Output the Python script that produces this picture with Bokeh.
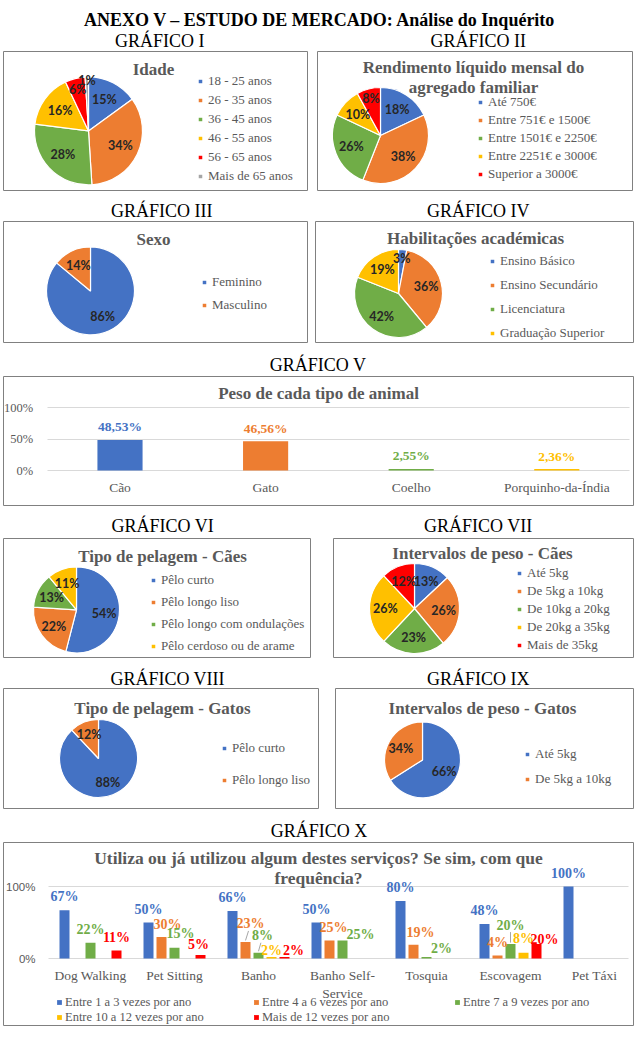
import numpy as np
from bokeh.plotting import figure
from bokeh.models import (Range1d, ColumnDataSource, Legend, LegendItem, LinearAxis,
                          FixedTicker, NumeralTickFormatter, Grid)
from bokeh.layouts import column, row
from bokeh.embed import file_html
from bokeh.resources import INLINE
from bokeh.core.properties import value

# ---------------- data ----------------
idade_labels = ["18 - 25 anos", "26 - 35 anos", "36 - 45 anos", "46 - 55 anos",
                "56 - 65 anos", "Mais de 65 anos"]
idade_values = [15, 34, 28, 16, 6, 1]

rend_labels = ["Até 750€", "Entre 751€ e 1500€", "Entre 1501€ e 2250€",
               "Entre 2251€ e 3000€", "Superior a 3000€"]
rend_values = [18, 38, 26, 10, 8]

sexo_labels = ["Feminino", "Masculino"]
sexo_values = [86, 14]

hab_labels = ["Ensino Básico", "Ensino Secundário", "Licenciatura", "Graduação Superior"]
hab_values = [3, 36, 42, 19]

animal_labels = ["Cão", "Gato", "Coelho", "Porquinho-da-Índia"]
animal_values = [48.53, 46.56, 2.55, 2.36]

pelc_labels = ["Pêlo curto", "Pêlo longo liso", "Pêlo longo com ondulações",
               "Pêlo cerdoso ou de arame"]
pelc_values = [54, 22, 13, 11]

pesoc_labels = ["Até 5kg", "De 5kg a 10kg", "De 10kg a 20kg", "De 20kg a 35kg", "Mais de 35kg"]
pesoc_values = [13, 26, 23, 26, 12]

pelg_labels = ["Pêlo curto", "Pêlo longo liso"]
pelg_values = [88, 12]

pesog_labels = ["Até 5kg", "De 5kg a 10kg"]
pesog_values = [66, 34]

serv_categories = ["Dog Walking", "Pet Sitting", "Banho", "Banho Self-\nService",
                   "Tosquia", "Escovagem", "Pet Táxi"]
serv_series = ["Entre 1 a 3 vezes por ano", "Entre 4 a 6 vezes por ano",
               "Entre 7 a 9 vezes por ano", "Entre 10 a 12 vezes por ano",
               "Mais de 12 vezes por ano"]
serv_1a3 = [67, 50, 66, 50, 80, 48, 100]
serv_4a6 = [0, 30, 23, 25, 19, 4, 0]
serv_7a9 = [22, 15, 8, 25, 2, 20, 0]
serv_10a12 = [0, 0, 2, 0, 0, 8, 0]
serv_mais12 = [11, 5, 2, 0, 0, 20, 0]

# ---------------- style ----------------
BLUE, ORANGE, GREEN, YELLOW, RED, GRAY = "#4472C4", "#ED7D31", "#70AD47", "#FFC000", "#FF0000", "#A5A5A5"
PALETTE = [BLUE, ORANGE, GREEN, YELLOW, RED, GRAY]
BOX = "#808080"
TXT = "#595959"
GRIDC = "#d9d9d9"
SERIF = "Liberation Serif"
W = 637


def base_fig(split, band, box, xr, yr, outline=BOX):
    fl, fr = split
    bt, bb = band
    l, t, r, b = box
    return figure(width=fr - fl, height=bb - bt, x_range=xr, y_range=yr,
                  min_border_left=l - fl, min_border_right=fr - r,
                  min_border_top=t - bt, min_border_bottom=bb - b,
                  x_axis_type=None, y_axis_type=None, toolbar_location=None, tools="",
                  output_backend="svg", outline_line_color=outline, outline_line_width=1,
                  background_fill_color="white", border_fill_color="white")


def make_legend(items, x_px, y0_px, pitch, nrows, box, size="13px", standoff=5):
    l, t, r, b = box
    bottom = y0_px + (nrows - 1) * pitch + pitch / 2.0
    return Legend(items=items, location=(x_px - l, b - bottom), orientation="vertical",
                  padding=0, margin=0, spacing=0, glyph_width=6, glyph_height=6,
                  label_height=int(round(pitch)), label_standoff=standoff,
                  label_text_font=SERIF, label_text_font_size=size, label_text_color=TXT,
                  border_line_alpha=0, background_fill_alpha=0)


def head_fig(top, bottom, entries):
    p = figure(width=W, height=bottom - top, x_range=Range1d(0, W), y_range=Range1d(bottom, top),
               min_border_left=0, min_border_right=0, min_border_top=0, min_border_bottom=0,
               x_axis_type=None, y_axis_type=None, toolbar_location=None, tools="",
               output_backend="svg", outline_line_color=None,
               background_fill_color="white", border_fill_color="white")
    for txt, x, y, bold in entries:
        p.text(x=[x], y=[y], text=[txt], text_font=value(SERIF), text_font_size="18px",
               text_font_style="bold" if bold else "normal", text_color="black",
               text_align="center", text_baseline="middle")
    return p


def pie_panel(labels, values, box, split, band, center, radius, titles, title_pos,
              leg_x, leg_y0, leg_pitch):
    l, t, r, b = box
    p = base_fig(split, band, box, Range1d(l, r), Range1d(b, t))
    vals = np.asarray(values, float)
    frac = vals / vals.sum()
    cum = np.concatenate([[0.0], np.cumsum(frac)])
    end = np.pi / 2 - 2 * np.pi * cum[:-1]
    start = np.pi / 2 - 2 * np.pi * cum[1:]
    src = ColumnDataSource(dict(start=start, end=end, color=PALETTE[:len(values)]))
    cx, cy = center
    w = p.wedge(x=cx, y=cy, radius=radius, start_angle="start", end_angle="end",
                fill_color="color", line_color="white", line_width=1.2, source=src)
    mid = (start + end) / 2
    fac = np.where(vals >= 10, 0.65, np.where(vals >= 3, 0.8, 0.95))
    lx = cx + fac * radius * np.cos(mid)
    ly = cy - fac * radius * np.sin(mid)
    p.text(x=lx, y=ly, text=[f"{v}%" for v in values], text_font=value("Lato"),
           text_font_style="bold", text_font_size="12.5px", text_color="#262626",
           text_align="center", text_baseline="middle")
    tx, ty = title_pos
    p.text(x=[tx] * len(titles), y=[ty + 20 * i for i in range(len(titles))], text=titles,
           text_font=value(SERIF), text_font_style="bold", text_font_size="17px",
           text_color=TXT, text_align="center", text_baseline="middle")
    items = [LegendItem(label=lab, renderers=[w], index=i) for i, lab in enumerate(labels)]
    p.add_layout(make_legend(items, leg_x, leg_y0, leg_pitch, len(labels), box))
    return p


# ---------------- headings ----------------
h1 = head_fig(0, 49, [("ANEXO V – ESTUDO DE MERCADO: Análise do Inquérito", 320, 19, True),
                      ("GRÁFICO I", 158, 40, False), ("GRÁFICO II", 480, 40, False)])
h2 = head_fig(195, 219, [("GRÁFICO III", 160, 210, False), ("GRÁFICO IV", 480, 210, False)])
h3 = head_fig(347, 375, [("GRÁFICO V", 318, 364, False)])
h4 = head_fig(510, 536, [("GRÁFICO VI", 161, 525, False), ("GRÁFICO VII", 480, 525, False)])
h5 = head_fig(662, 687, [("GRÁFICO VIII", 166, 678, False), ("GRÁFICO IX", 480, 678, False)])
h6 = head_fig(814, 841, [("GRÁFICO X", 319, 830, False)])

# ---------------- pies ----------------
p1 = pie_panel(idade_labels, idade_values, (3, 50, 307, 190), (0, 312), (49, 195),
               (88, 130), 54, ["Idade"], (153, 68), 197, 81, 19)
p2 = pie_panel(rend_labels, rend_values, (317, 51, 632, 190), (312, 637), (49, 195),
               (380, 135), 48, ["Rendimento líquido mensal do", "agregado familiar"], (473, 67),
               477, 102, 18)
p3 = pie_panel(sexo_labels, sexo_values, (3, 220, 307, 342), (0, 311), (219, 347),
               (90, 290), 44, ["Sexo"], (153, 238), 201, 282, 23)
p4 = pie_panel(hab_labels, hab_values, (315, 221, 633, 342), (311, 637), (219, 347),
               (398, 293), 44, ["Habilitações académicas"], (475, 238), 489, 261, 24)
p6 = pie_panel(pelc_labels, pelc_values, (3, 537, 310, 657), (0, 320), (536, 662),
               (76, 609), 43, ["Tipo de pelagem - Cães"], (162, 555), 150, 580, 22)
p7 = pie_panel(pesoc_labels, pesoc_values, (333, 538, 633, 657), (320, 637), (536, 662),
               (414, 608), 45, ["Intervalos de peso - Cães"], (482, 553), 516, 573, 18)
p8 = pie_panel(pelg_labels, pelg_values, (3, 688, 318, 808), (0, 326), (687, 814),
               (98, 758), 39, ["Tipo de pelagem - Gatos"], (162, 708), 221, 748, 32)
p9 = pie_panel(pesog_labels, pesog_values, (335, 688, 633, 809), (326, 637), (687, 814),
               (422, 760), 38, ["Intervalos de peso - Gatos"], (482, 708), 524, 755, 25)

# ---------------- chart V ----------------
V_BOX = (3, 376, 633, 505)
V_X0, V_DX, V_Y0, V_DY = 46.7, 145.6, 470.0, 63.0


def vx(px):
    return (px - V_X0) / V_DX


def vy(py):
    return (V_Y0 - py) / V_DY


p5 = base_fig((0, W), (375, 510), V_BOX, Range1d(vx(3), vx(633)), Range1d(vy(505), vy(376)))
p5.add_layout(Grid(dimension=1, ticker=FixedTicker(ticks=[0, 0.5, 1]),
                   cross_bounds=(0, len(animal_labels)), grid_line_color=GRIDC))
v_cols = PALETTE[:len(animal_labels)]
v_x = np.arange(len(animal_labels)) + 0.5
v_top = np.asarray(animal_values) / 100
p5.vbar(x=v_x, top=v_top, width=0.31, fill_color=v_cols, line_color=None)
p5.text(x=v_x, y=v_top, text=[f"{v:.2f}%".replace(".", ",") for v in animal_values],
        y_offset=-13, text_font=value(SERIF), text_font_style="bold", text_font_size="13.5px",
        text_color=v_cols, text_align="center", text_baseline="middle")
p5.text(x=[vx(318)], y=[vy(393)], text=["Peso de cada tipo de animal"], text_font=value(SERIF),
        text_font_style="bold", text_font_size="17px", text_color=TXT,
        text_align="center", text_baseline="middle")
ya5 = LinearAxis(fixed_location=0, ticker=FixedTicker(ticks=[0, 0.5, 1]),
                 formatter=NumeralTickFormatter(format="0%"), axis_line_color=None,
                 major_tick_line_color=None, minor_tick_line_color=None,
                 major_tick_in=0, major_tick_out=0, major_label_standoff=14,
                 major_label_text_font=SERIF, major_label_text_font_size="12.5px",
                 major_label_text_color=TXT)
p5.add_layout(ya5, "left")
xa5 = LinearAxis(fixed_location=0, ticker=FixedTicker(ticks=list(v_x)),
                 major_label_overrides={float(x): lab for x, lab in zip(v_x, animal_labels)},
                 axis_line_color=None, major_tick_line_color=None, minor_tick_line_color=None,
                 major_tick_in=0, major_tick_out=0, major_label_standoff=9,
                 major_label_text_font=SERIF, major_label_text_font_size="13.5px",
                 major_label_text_color=TXT)
p5.add_layout(xa5, "below")

# ---------------- chart X ----------------
X_BOX = (3, 842, 633, 1025)
X_X0, X_DX, X_Y0, X_DY = 48.0, 84.0, 958.0, 72.0


def xx(px):
    return (px - X_X0) / X_DX


def xy(py):
    return (X_Y0 - py) / X_DY


p10 = base_fig((0, W), (841, 1051), X_BOX, Range1d(xx(3), xx(633)), Range1d(xy(1025), xy(842)))
p10.add_layout(Grid(dimension=1, ticker=FixedTicker(ticks=[0, 1]),
                    cross_bounds=(0, 6.9), grid_line_color=GRIDC))
serv_data = [serv_1a3, serv_4a6, serv_7a9, serv_10a12, serv_mais12]
serv_colors = [BLUE, ORANGE, GREEN, YELLOW, RED]
BAR_STEP, BAR_W = 13 / 84, 10 / 84
# label nudges (px right, px lift above bar top) for crowded labels
NUDGE = {(1, 1): (6, 12), (1, 2): (6, 14), (1, 4): (-2, 10), (2, 1): (5, 18), (2, 2): (4, 17),
         (2, 3): (0, 7), (2, 4): (9, 7), (3, 1): (4, 13), (3, 2): (18, 6), (4, 1): (7, 12),
         (4, 2): (15, 9), (5, 2): (0, 19), (5, 3): (0, 14), (5, 4): (8, 5)}
cat_x = np.arange(len(serv_categories)) + 0.5
renderers = []
lab = dict(x=[], y=[], text=[], color=[], dx=[], dy=[])
lead = dict(x0=[], y0=[], x1=[], y1=[])
for s, (vals, col) in enumerate(zip(serv_data, serv_colors)):
    bx = cat_x + (s - 2) * BAR_STEP
    top = np.asarray(vals) / 100
    renderers.append(p10.vbar(x=bx, top=top, width=BAR_W, fill_color=col, line_color=None))
    for c, v in enumerate(vals):
        if v <= 0:
            continue
        dx, lift = NUDGE.get((c, s), (0, 13.5))
        lab["x"].append(bx[c]); lab["y"].append(top[c]); lab["text"].append(f"{v}%")
        lab["color"].append(col); lab["dx"].append(dx); lab["dy"].append(-lift)
        if lift >= 17:
            lead["x0"].append(bx[c]); lead["y0"].append(top[c] + 1.5 / X_DY)
            lead["x1"].append(bx[c] + dx / X_DX * 0.6); lead["y1"].append(top[c] + (lift - 7) / X_DY)
p10.segment(x0="x0", y0="y0", x1="x1", y1="y1", source=ColumnDataSource(lead),
            line_color="#a6a6a6", line_width=1)
p10.text(x="x", y="y", text="text", x_offset="dx", y_offset="dy", text_color="color",
         source=ColumnDataSource(lab), text_font=value(SERIF), text_font_style="bold",
         text_font_size="14px", text_align="center", text_baseline="middle")
p10.text(x=[xx(318), xx(318)], y=[xy(857), xy(877)],
         text=["Utiliza ou já utilizou algum destes serviços? Se sim, com que", "frequência?"],
         text_font=value(SERIF), text_font_style="bold", text_font_size="17.5px", text_color=TXT,
         text_align="center", text_baseline="middle")
ya10 = LinearAxis(fixed_location=0, ticker=FixedTicker(ticks=[0, 1]),
                  formatter=NumeralTickFormatter(format="0%"), axis_line_color=None,
                  major_tick_line_color=None, minor_tick_line_color=None,
                  major_tick_in=0, major_tick_out=0, major_label_standoff=13,
                  major_label_text_font="Liberation Sans", major_label_text_font_size="11.5px",
                  major_label_text_color=TXT)
p10.add_layout(ya10, "left")
xa10 = LinearAxis(fixed_location=0, ticker=FixedTicker(ticks=list(cat_x)),
                  major_label_overrides={float(x): c for x, c in zip(cat_x, serv_categories)},
                  axis_line_color=None, major_tick_line_color=None, minor_tick_line_color=None,
                  major_tick_in=0, major_tick_out=0, major_label_standoff=9,
                  major_label_text_font=SERIF, major_label_text_font_size="13.5px",
                  major_label_text_color=TXT)
p10.add_layout(xa10, "below")
for x_px, idxs in [(56, [0, 3]), (253, [1, 4]), (454, [2])]:
    items = [LegendItem(label=serv_series[i], renderers=[renderers[i]]) for i in idxs]
    p10.add_layout(make_legend(items, x_px, 1002, 15, len(idxs), X_BOX, size="12.5px", standoff=3))

layout = column(h1, row(p1, p2), h2, row(p3, p4), h3, p5, h4, row(p6, p7), h5, row(p8, p9), h6, p10)
open("out.html", "w").write(file_html(layout, INLINE))
